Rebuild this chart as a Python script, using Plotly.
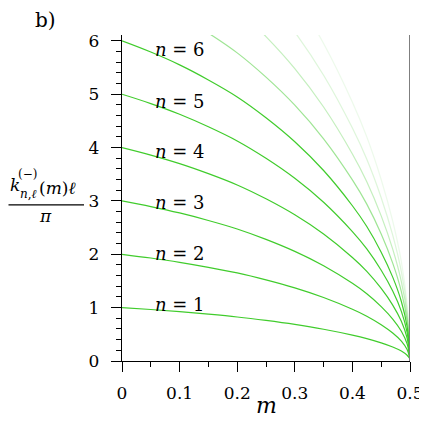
import plotly.graph_objects as go

# ---- data ----
m_values = [0.0, 0.05, 0.1, 0.15, 0.2, 0.25, 0.3, 0.35, 0.4, 0.425, 0.45, 0.47, 0.485, 0.495, 0.5]

k_n1 = [1.0, 0.965, 0.925, 0.878, 0.825, 0.76, 0.685, 0.595, 0.485, 0.42, 0.34, 0.262, 0.186, 0.107, 0.04]
k_n2 = [2.0, 1.93, 1.85, 1.756, 1.65, 1.52, 1.37, 1.19, 0.97, 0.84, 0.68, 0.524, 0.372, 0.214, 0.04]
k_n3 = [3.0, 2.895, 2.775, 2.634, 2.475, 2.28, 2.055, 1.785, 1.455, 1.26, 1.02, 0.786, 0.558, 0.321, 0.04]
k_n4 = [4.0, 3.86, 3.70, 3.512, 3.30, 3.04, 2.74, 2.38, 1.94, 1.68, 1.36, 1.048, 0.744, 0.428, 0.04]
k_n5 = [5.0, 4.825, 4.625, 4.39, 4.125, 3.80, 3.425, 2.975, 2.425, 2.10, 1.70, 1.31, 0.93, 0.535, 0.04]
k_n6 = [6.0, 5.79, 5.55, 5.268, 4.95, 4.56, 4.11, 3.57, 2.91, 2.52, 2.04, 1.572, 1.116, 0.642, 0.04]
k_n7 = [7.0, 6.755, 6.475, 6.146, 5.775, 5.32, 4.795, 4.165, 3.395, 2.94, 2.38, 1.834, 1.302, 0.749, 0.04]
k_n8 = [8.0, 7.72, 7.40, 7.024, 6.60, 6.08, 5.48, 4.76, 3.88, 3.36, 2.72, 2.096, 1.488, 0.856, 0.04]
k_n9 = [9.0, 8.685, 8.325, 7.902, 7.425, 6.84, 6.165, 5.355, 4.365, 3.78, 3.06, 2.358, 1.674, 0.963, 0.04]
k_n10 = [10.0, 9.65, 9.25, 8.78, 8.25, 7.60, 6.85, 5.95, 4.85, 4.20, 3.40, 2.62, 1.86, 1.07, 0.04]

series = [k_n1, k_n2, k_n3, k_n4, k_n5, k_n6, k_n7, k_n8, k_n9, k_n10]
series_opacity = [1, 1, 1, 1, 1, 1, 0.5, 0.3, 0.17, 0.09]

label_n = [1, 2, 3, 4, 5, 6]
label_y = [1.05, 2.01, 2.97, 3.92, 4.86, 5.83]
label_m = 0.1

x_ticks = [0, 0.1, 0.2, 0.3, 0.4, 0.5]
x_ticktext = ["0", "0.1", "0.2", "0.3", "0.4", "0.5"]
y_ticks = [0, 1, 2, 3, 4, 5, 6]

# ---- figure ----
OFF = 8  # default page body margin
W, H = 427 - OFF, 421 - OFF
# target plot area in window pixels: x 122..410, y 35..361.3
L = 122 - OFF
R = W - (410 - OFF)
T = 35 - OFF
B = H - (361.3 - OFF)
plot_w = W - L - R
plot_h = H - T - B
FONT = "DejaVu Serif"
GREEN = "rgb(64,204,44)"

def px(xp):  # window pixel -> paper
    return (xp - OFF - L) / plot_w

def py(yp):
    return (H - B - (yp - OFF)) / plot_h

fig = go.Figure()
for vals, op in zip(series, series_opacity):
    fig.add_trace(go.Scatter(
        x=m_values, y=vals, mode="lines",
        line=dict(color=GREEN, width=1.2, shape="spline", smoothing=1.0),
        opacity=op, showlegend=False, hoverinfo="skip"))

annotations = []
for n, yv in zip(label_n, label_y):
    annotations.append(dict(
        x=label_m, y=yv, xref="x", yref="y", showarrow=False,
        text=f"<i>n</i>&nbsp;=&nbsp;{n}", xanchor="center", yanchor="middle",
        font=dict(family=FONT, size=18, color="black")))

# panel label
annotations.append(dict(x=px(45), y=py(20), xref="paper", yref="paper", showarrow=False,
                        text="b)", xanchor="center", yanchor="middle",
                        font=dict(family=FONT, size=20, color="black")))
# x-axis title
annotations.append(dict(x=0.5, y=py(406), xref="paper", yref="paper", showarrow=False,
                        text="<i>m</i>", xanchor="center", yanchor="middle",
                        font=dict(family=FONT, size=22, color="black")))
# y-axis title as fraction
annotations.append(dict(x=px(9), y=py(185), xref="paper", yref="paper", showarrow=False,
                        text="<i>k</i>", xanchor="left", yanchor="middle", borderpad=0,
                        font=dict(family=FONT, size=17, color="black")))
annotations.append(dict(x=px(27), y=py(174), xref="paper", yref="paper", showarrow=False,
                        text="(−)", xanchor="center", yanchor="middle",
                        font=dict(family=FONT, size=12, color="black")))
annotations.append(dict(x=px(28), y=py(194), xref="paper", yref="paper", showarrow=False,
                        text="<i>n</i>,<i>ℓ</i>", xanchor="center", yanchor="middle",
                        font=dict(family=FONT, size=12, color="black")))
annotations.append(dict(x=px(38), y=py(188), xref="paper", yref="paper", showarrow=False,
                        text="(<i>m</i>)<i>ℓ</i>", xanchor="left", yanchor="middle", borderpad=0,
                        font=dict(family=FONT, size=17, color="black")))
annotations.append(dict(x=px(45), y=py(216), xref="paper", yref="paper", showarrow=False,
                        text="<i>π</i>", xanchor="center", yanchor="middle",
                        font=dict(family=FONT, size=17, color="black")))

shapes = [
    dict(type="line", xref="paper", yref="paper", x0=px(8.5), x1=px(84), y0=py(205), y1=py(205),
         line=dict(color="black", width=1.2)),
    dict(type="line", xref="x", yref="paper", x0=0.5, x1=0.5, y0=0, y1=1,
         line=dict(color="#7f7f7f", width=2), layer="above"),
]

fig.update_layout(
    width=W, height=H,
    margin=dict(l=L, r=R, t=T, b=B, autoexpand=False),
    paper_bgcolor="white", plot_bgcolor="white",
    annotations=annotations, shapes=shapes,
    font=dict(family=FONT, color="black"),
)
fig.update_xaxes(
    range=[0, 0.5], tickmode="array", tickvals=x_ticks, ticktext=x_ticktext,
    showgrid=False, zeroline=False, showline=True, linecolor="black", linewidth=1.3,
    ticks="outside", ticklen=10, tickwidth=1.1, tickcolor="black", automargin=False,
    tickfont=dict(family=FONT, size=17, color="black"), ticklabelstandoff=6,
    minor=dict(dtick=0.05, tick0=0, ticks="outside", ticklen=5, tickwidth=1.1, tickcolor="black", showgrid=False),
)
fig.update_yaxes(
    range=[0, 6.11], tickmode="array", tickvals=y_ticks,
    showgrid=False, zeroline=False, showline=True, linecolor="black", linewidth=1.3,
    ticks="outside", ticklen=10, tickwidth=1.1, tickcolor="black", automargin=False,
    tickfont=dict(family=FONT, size=17, color="black"), ticklabelstandoff=8,
    minor=dict(dtick=0.2, tick0=0, ticks="outside", ticklen=5, tickwidth=1.1, tickcolor="black", showgrid=False),
)

fig.write_html("out.html")
